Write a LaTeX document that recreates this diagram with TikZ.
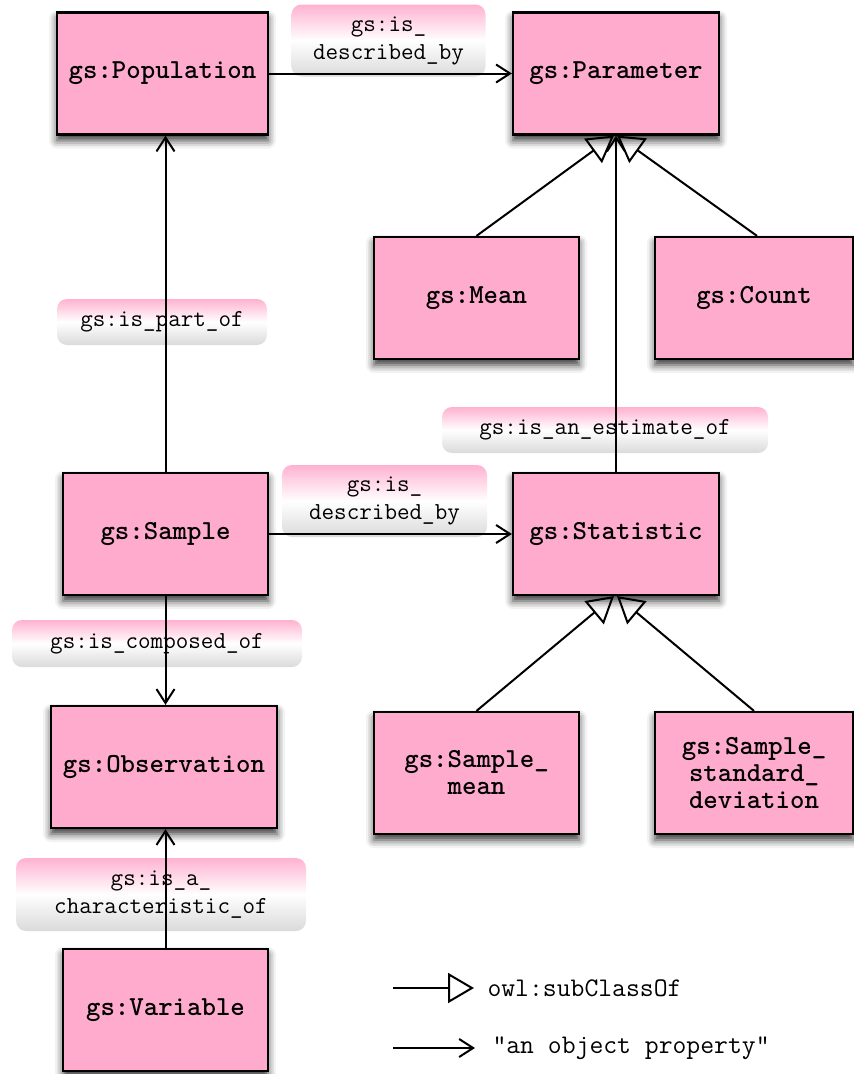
\documentclass[tikz,border=0pt]{standalone}
\usepackage{fontspec}
\usetikzlibrary{arrows.meta, shadows.blur}
\definecolor{boxpink}{RGB}{255,171,205}
\definecolor{labpink}{RGB}{255,178,208}
\definecolor{labgrey}{RGB}{218,218,218}

\begin{document}
\begin{tikzpicture}[x=1pt, y=-1pt,
		classbox/.style={
			draw,
			line width=2.2pt,
			fill=boxpink,
			minimum width=#1,
			minimum height=122pt,
			align=center,
			font=\fontsize{27.5}{27}\selectfont\ttfamily\bfseries,
			blur shadow={shadow xshift=0pt, shadow yshift=-6pt, shadow blur radius=8pt, shadow opacity=80}
		},
		proplabel/.style={
			rounded corners=10pt,
			top color=labpink, bottom color=labgrey, middle color=white,
			minimum width=#1,
			align=center,
			text=black,
			font=\fontsize{24.4}{28}\selectfont\ttfamily
		},
		prop/.style={line width=2pt, -{Straight Barb[length=14pt, width=18pt, line width=2pt]}},
		subclass/.style={line width=2pt, -{Triangle[open, length=26pt, width=30pt, line width=2pt]}},
		legendtext/.style={anchor=west, font=\fontsize{26.9}{28}\selectfont\ttfamily}]
		\useasboundingbox (0,0) rectangle (854,1074);
		
		% property labels
		\node[proplabel=194pt, minimum height=72pt] (lpopdesc) at (388.5, 40.5) {gs:is\_\\described\_by};
		\node[proplabel=210pt, minimum height=46pt] (lpart) at (162, 322) {gs:is\_part\_of};
		\node[proplabel=326pt, minimum height=46pt] (lest) at (605, 430) {gs:is\_an\_estimate\_of};
		\node[proplabel=205pt, minimum height=72pt] (lsampdesc) at (384.5, 501) {gs:is\_\\described\_by};
		\node[proplabel=290pt, minimum height=47pt] (lcomp) at (157, 643.5) {gs:is\_composed\_of};
		\node[proplabel=290pt, minimum height=73pt] (lchar) at (161, 894.5) {gs:is\_a\_\\characteristic\_of};
		
		% classes
		\node[classbox=211pt] (pop) at (162.5, 73.5) {gs:Population};
		\node[classbox=206pt] (par) at (616, 73.5) {gs:Parameter};
		\node[classbox=205pt] (mean) at (476.5, 298) {gs:Mean};
		\node[classbox=198pt] (count) at (754, 298) {gs:Count};
		\node[classbox=205pt] (sample) at (165.5, 534) {gs:Sample};
		\node[classbox=206pt] (stat) at (616, 534) {gs:Statistic};
		\node[classbox=226pt] (obs) at (164, 767) {gs:Observation};
		\node[classbox=205pt] (smean) at (476.5, 773) {gs:Sample\_\\mean};
		\node[classbox=198pt] (ssd) at (754, 773) {gs:Sample\_\\standard\_\\deviation};
		\node[classbox=205pt] (var) at (165.5, 1010) {gs:Variable};
		
		% object properties
		\draw[prop] (pop.east) -- (par.west);
		\draw[prop] (sample.north) -- (sample.north |- pop.south);
		\draw[prop] (stat.north) -- (par.south);
		\draw[prop] (sample.east) -- (stat.west);
		\draw[prop] (sample.south) -- (sample.south |- obs.north);
		\draw[prop] (var.north) -- (var.north |- obs.south);
		
		% subclasses
		\draw[subclass] (mean.north) -- ([xshift=-2pt]par.south);
		\draw[subclass] ([xshift=3pt]count.north) -- ([xshift=1pt]par.south);
		\draw[subclass] (smean.north) -- ([xshift=-2pt]stat.south);
		\draw[subclass] (ssd.north) -- ([xshift=1pt]stat.south);
		
		% legend
		\coordinate (subA) at (393, 988);
		\coordinate (subB) at (474, 988);
		\coordinate (propA) at (393, 1048);
		\coordinate (propB) at (475, 1048);
		\draw[subclass] (subA) -- (subB);
		\draw[prop] (propA) -- (propB);
		\node[legendtext] (subtext) at (484, 988) {owl:subClassOf};
		\node[legendtext] (proptext) at (489, 1048) {"an object property"};
	\end{tikzpicture}
\end{document}
